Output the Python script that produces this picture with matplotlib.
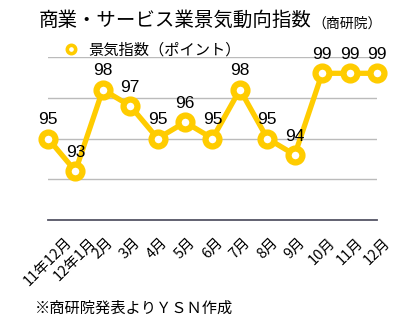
import matplotlib
matplotlib.use("Agg")
import matplotlib.pyplot as plt
from matplotlib.lines import Line2D

plt.rcParams['font.family'] = ['Noto Sans CJK JP', 'DejaVu Sans']

# データ
months = ['11年12月', '12年1月', '2月', '3月', '4月', '5月', '6月',
          '7月', '8月', '9月', '10月', '11月', '12月']
values = [95, 93, 98, 97, 95, 96, 95, 98, 95, 94, 99, 99, 99]

yellow = '#FFCC00'

fig = plt.figure(figsize=(4.1, 3.24), dpi=100)
ax = fig.add_axes([48 / 410, 1 - 220 / 324, (377 - 48) / 410, (220 - 57) / 324])

x = list(range(len(values)))
ax.plot(x, values, color=yellow, lw=3.8, marker='o', ms=10,
        mfc='white', mec=yellow, mew=4.5, clip_on=False, zorder=3)

for xi, v in zip(x, values):
    ax.annotate(str(v), (xi, v), xytext=(0, 13.5), textcoords='offset points',
                ha='center', va='center', fontsize=12.5,
                family=['Liberation Sans', 'DejaVu Sans'], zorder=4)

ax.set_xlim(0, len(values) - 1)
ax.set_ylim(90, 100)
ax.set_yticks([90, 92.5, 95, 97.5, 100])
ax.yaxis.grid(True, color='#BBBBBB', lw=1)
ax.tick_params(axis='y', length=0, labelleft=False)
ax.set_xticks(x)
ax.set_xticklabels(months, rotation=45, ha='center', va='top', fontsize=10.5)
ax.tick_params(axis='x', length=0, pad=11)
for s in ['left', 'right', 'top']:
    ax.spines[s].set_visible(False)
ax.spines['bottom'].set_color('#555566')
ax.spines['bottom'].set_linewidth(1.3)

# 凡例
h = Line2D([], [], color=yellow, lw=0, marker='o', ms=6, mfc='white',
           mec=yellow, mew=2.6)
fig.legend([h], ['景気指数（ポイント）'], loc='center left',
           bbox_to_anchor=(62 / 410, 1 - 50 / 324), frameon=False,
           fontsize=11, handlelength=1.2, handletextpad=0.5,
           borderaxespad=0, borderpad=0)

# タイトル
t = fig.text(39 / 410, 1 - 20 / 324, '商業・サービス業景気動向指数',
             fontsize=14, ha='left', va='center')
ax.annotate('（商研院）', xy=(1, 0), xycoords=t, ha='left', va='bottom',
            fontsize=10, annotation_clip=False)

fig.text(35 / 410, 1 - 308 / 324, '※商研院発表よりＹＳＮ作成',
         fontsize=11, ha='left', va='center')

fig.savefig('out.png', dpi=100)
